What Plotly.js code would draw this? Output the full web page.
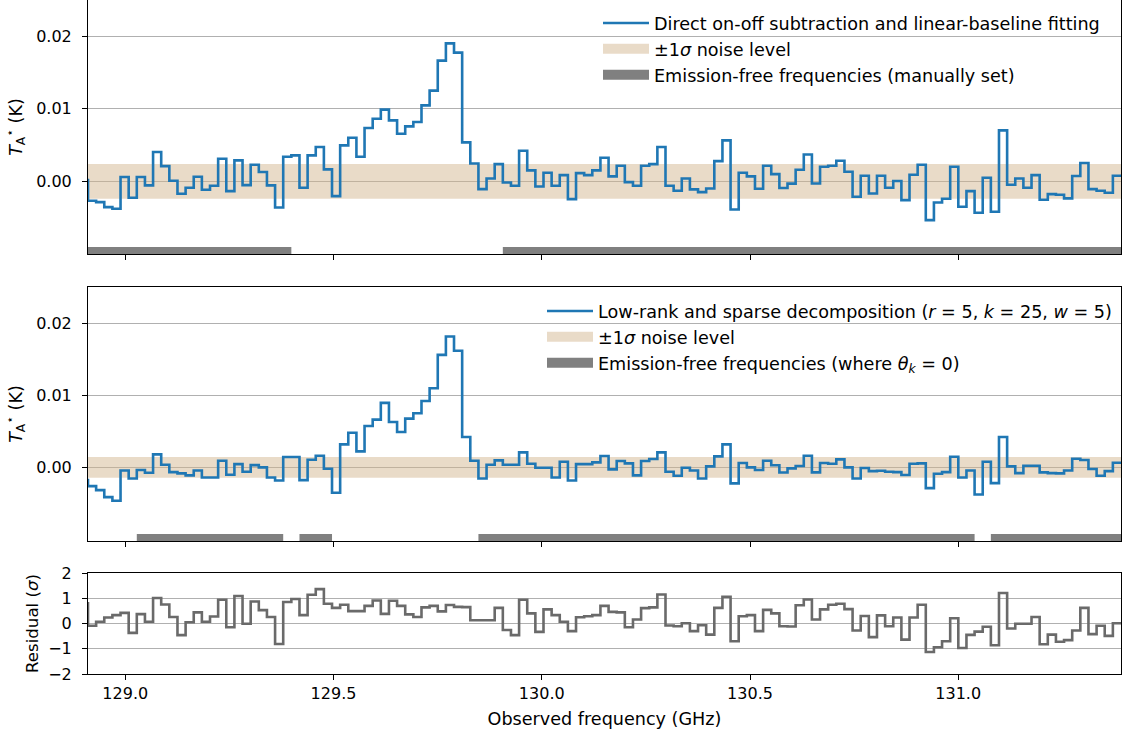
<!DOCTYPE html>
<html>
<head>
<meta charset="utf-8">
<script src="https://cdn.plot.ly/plotly-3.0.1.min.js"></script>
<style>html,body{margin:0;padding:0;background:#fff}</style>
</head>
<body>
<div id="chart" style="width:1123px;height:731px"></div>
<script>
// Spectral channel grid (GHz): left edge of channel 0 and channel width.
const firstEdge = 128.9105;
const channelWidth = 0.01953;

// Antenna temperature after direct on-off subtraction + linear baseline (K), channels -1..126
const tDirect = [
   0.00020, -0.00267, -0.00285, -0.00354, -0.00377,  0.00060, -0.00225,  0.00060, -0.00055,  0.00405,
   0.00211,  0.00009, -0.00170, -0.00087,  0.00064, -0.00115, -0.00060,  0.00313, -0.00133,  0.00290,
  -0.00051,  0.00230,  0.00129, -0.00055, -0.00359,  0.00340,  0.00359, -0.00087,  0.00359,  0.00474,
   0.00166, -0.00202,  0.00497,  0.00602,  0.00340,  0.00736,  0.00864,  0.00989,  0.00841,  0.00657,
   0.00759,  0.00818,  0.01048,  0.01251,  0.01664,  0.01903,  0.01775,  0.00538,  0.00248, -0.00106,
   0.00041,  0.00239, -0.00014, -0.00060,  0.00423,  0.00152, -0.00069,  0.00120, -0.00060,  0.00087,
  -0.00244,  0.00115,  0.00087,  0.00152,  0.00326,  0.00069,  0.00216, -0.00009, -0.00060,  0.00216,
   0.00239,  0.00474, -0.00060, -0.00129,  0.00041, -0.00110, -0.00147, -0.00097,  0.00280,  0.00566,
  -0.00386,  0.00120,  0.00069, -0.00101,  0.00216,  0.00100, -0.00090, -0.00030,  0.00161,  0.00372,
  -0.00028,  0.00202,  0.00216,  0.00285,  0.00133, -0.00211,  0.00078, -0.00166,  0.00078, -0.00087,
   0.00005, -0.00257,  0.00092,  0.00230, -0.00533, -0.00290, -0.00239,  0.00202, -0.00349, -0.00133,
  -0.00432,  0.00051, -0.00418,  0.00703, -0.00046,  0.00041, -0.00087,  0.00087, -0.00253, -0.00175,
  -0.00184, -0.00234,  0.00074,  0.00253, -0.00106, -0.00129, -0.00156,  0.00078
];

// Antenna temperature from the low-rank + sparse decomposition (K), channels -1..126
const tLowRank = [
  -0.00176, -0.00259, -0.00315, -0.00412, -0.00463, -0.00042, -0.00153, -0.00037, -0.00074,  0.00181,
   0.00037, -0.00065, -0.00083, -0.00111, -0.00042, -0.00139, -0.00139,  0.00093, -0.00102,  0.00046,
  -0.00060,  0.00032,  0.00000, -0.00139, -0.00181,  0.00144,  0.00144, -0.00176,  0.00106,  0.00162,
  -0.00019, -0.00352,  0.00319,  0.00481,  0.00222,  0.00574,  0.00662,  0.00894,  0.00630,  0.00491,
   0.00676,  0.00750,  0.00921,  0.01097,  0.01560,  0.01815,  0.01616,  0.00421,  0.00093, -0.00153,
   0.00037,  0.00097,  0.00037,  0.00037,  0.00208,  0.00051, -0.00005, -0.00005, -0.00139,  0.00079,
  -0.00181,  0.00046,  0.00046,  0.00069,  0.00157, -0.00028,  0.00088,  0.00056, -0.00111,  0.00088,
   0.00116,  0.00208, -0.00060, -0.00116, -0.00005, -0.00042, -0.00153,  0.00014,  0.00153,  0.00319,
  -0.00222,  0.00060,  0.00000, -0.00037,  0.00093,  0.00030, -0.00070, -0.00014,  0.00019,  0.00162,
  -0.00069,  0.00060,  0.00051,  0.00111,  0.00000, -0.00153, -0.00009, -0.00051, -0.00046, -0.00060,
  -0.00065, -0.00106,  0.00051,  0.00056, -0.00287, -0.00088, -0.00065,  0.00148, -0.00139, -0.00042,
  -0.00375,  0.00079, -0.00218,  0.00421,  0.00014, -0.00079,  0.00023,  0.00023, -0.00069, -0.00079,
  -0.00083, -0.00042,  0.00120,  0.00102, -0.00023, -0.00116, -0.00051,  0.00065
];

// Residual between the two spectra in units of sigma, channels -1..126
const residual = [
   0.80, -0.09,  0.07,  0.24,  0.33,  0.42, -0.37,  0.37,  0.07,  1.01,
   0.75,  0.26, -0.46,  0.05,  0.44,  0.07,  0.28,  0.94, -0.15,  1.09,
  -0.01,  0.87,  0.53,  0.26, -0.81,  0.85,  0.97,  0.33,  1.14,  1.36,
   0.78,  0.62,  0.74,  0.49,  0.49,  0.70,  0.91,  0.38,  0.90,  0.70,
   0.36,  0.26,  0.64,  0.70,  0.48,  0.73,  0.66,  0.65,  0.13,  0.13,
   0.13,  0.62, -0.26, -0.46,  0.94,  0.40, -0.33,  0.56,  0.33,  0.07,
  -0.30,  0.25,  0.29,  0.33,  0.70,  0.46,  0.44, -0.15,  0.16,  0.61,
   0.64,  1.15, -0.08, -0.11,  0.01, -0.30, -0.07, -0.44,  0.62,  1.06,
  -0.70,  0.29,  0.33, -0.30,  0.54,  0.40, -0.11, -0.12,  0.72,  0.95,
   0.16,  0.56,  0.74,  0.78,  0.57, -0.28,  0.30, -0.54,  0.32, -0.11,
   0.24, -0.64,  0.24,  0.74, -1.13, -0.94, -0.70,  0.21, -0.97, -0.45,
  -0.32, -0.13, -0.86,  1.21, -0.20, -0.01, -0.01,  0.26, -0.82, -0.44,
  -0.72, -0.66, -0.28,  0.62, -0.42, -0.09, -0.49,  0.01
];

// 1-sigma noise levels (K)
const sigmaDirect = 0.0024;
const sigmaLowRank = 0.00143;

// Emission-free channel ranges [first, last] (inclusive)
const freeManual = [[0, 24], [51, 126]];
const freeLowRank = [[6, 23], [26, 29], [48, 108], [111, 126]];

const nChannels = 127;
const xTicks = [129.0, 129.5, 130.0, 130.5, 131.0];
const yTicksT = [0.00, 0.01, 0.02];
const yTicksR = [-2, -1, 0, 1, 2];

const legendDirect = 'Direct on-off subtraction and linear-baseline fitting';
const legendLowRank = 'Low-rank and sparse decomposition (<i>r</i> = 5, <i>k</i> = 25, <i>w</i> = 5)';
const legendNoise = '±1<i>σ</i> noise level';
const legendFreeManual = 'Emission-free frequencies (manually set)';
const legendFreeLowRank = 'Emission-free frequencies (where <i>θ</i><sub><i>k</i></sub> = 0)';

// ---- derived geometry ----
const edge = k => firstEdge + k * channelWidth;
const xMin = edge(0), xMax = edge(nChannels);
// left edges of channels -1..127 for a step ('hv') line; the last value closes the final channel
const stepX = Array.from({length: tDirect.length + 1}, (_, i) => edge(i - 1));
const stepY = arr => arr.concat([arr[arr.length - 1]]);

const bandColor = 'rgba(210,180,140,0.48)';
const freeColor = '#808080';

function bandTrace(sigma, xa, ya) {
  return {
    x: [xMin, xMax, xMax, xMin], y: [-sigma, -sigma, sigma, sigma],
    xaxis: xa, yaxis: ya, type: 'scatter', mode: 'lines', fill: 'toself',
    fillcolor: bandColor, line: {width: 0}, showlegend: false, hoverinfo: 'skip'
  };
}
function freeTrace(ranges, xa, ya) {
  const xs = [], ys = [];
  const h = 0.028;
  ranges.forEach(([a, b]) => {
    const x0 = edge(a), x1 = edge(b + 1);
    xs.push(x0, x1, x1, x0, x0, null);
    ys.push(0, 0, h, h, 0, null);
  });
  return {x: xs, y: ys, xaxis: xa, yaxis: ya, type: 'scatter', mode: 'lines', fill: 'toself',
    fillcolor: freeColor, line: {width: 0}, showlegend: false, hoverinfo: 'skip'};
}
// legend keys drawn as thick bars
function keyTrace(name, color, legend, rank) {
  return {x: [null], y: [null], type: 'scatter', mode: 'lines', name: name,
    line: {color: color, width: 12}, legend: legend, legendrank: rank, legendgroup: legend + rank,
    xaxis: legend === 'legend' ? 'x' : 'x2', yaxis: legend === 'legend' ? 'y' : 'y2'};
}

const blue = '#1f77b4';
const data = [
  bandTrace(sigmaDirect, 'x', 'y'),
  {x: stepX, y: stepY(tDirect), xaxis: 'x', yaxis: 'y', type: 'scatter', mode: 'lines',
   line: {color: blue, width: 2.6, shape: 'hv'}, name: legendDirect, legend: 'legend',
   legendrank: 1, legendgroup: 'legend1'},
  keyTrace(legendNoise, bandColor, 'legend', 2),
  keyTrace(legendFreeManual, freeColor, 'legend', 3),
  freeTrace(freeManual, 'x', 'y4'),

  bandTrace(sigmaLowRank, 'x2', 'y2'),
  {x: stepX, y: stepY(tLowRank), xaxis: 'x2', yaxis: 'y2', type: 'scatter', mode: 'lines',
   line: {color: blue, width: 2.6, shape: 'hv'}, name: legendLowRank, legend: 'legend2',
   legendrank: 1, legendgroup: 'legend21'},
  keyTrace(legendNoise, bandColor, 'legend2', 2),
  keyTrace(legendFreeLowRank, freeColor, 'legend2', 3),
  freeTrace(freeLowRank, 'x2', 'y5'),

  {x: stepX, y: stepY(residual), xaxis: 'x3', yaxis: 'y3', type: 'scatter', mode: 'lines',
   line: {color: '#6a6a6a', width: 2.6, shape: 'hv'}, showlegend: false}
];

const fontFamily = "'DejaVu Sans', sans-serif";
const H = 674; // plotting height in px (731 - bottom margin)
const dom = (top, bottom) => [1 - bottom / H, 1 - top / H];
const tickTxt = {family: fontFamily, size: 16, color: '#000'};
const labelTxt = {family: fontFamily, size: 17.6, color: '#000'};

const xBase = {
  range: [xMin, xMax], showline: true, mirror: true, linecolor: '#000', linewidth: 1,
  ticks: 'outside', ticklen: 5, tickwidth: 1, tickcolor: '#000', tickvals: xTicks,
  showgrid: false, zeroline: false, tickfont: tickTxt
};
const yBase = {
  showline: true, mirror: true, linecolor: '#000', linewidth: 1,
  ticks: 'outside', ticklen: 5, tickwidth: 1, tickcolor: '#000', ticklabelstandoff: 7,
  showgrid: true, gridcolor: '#b0b0b0', gridwidth: 1, zeroline: false,
  tickfont: tickTxt
};
const tTitle = {text: '<i>T</i><sub>A</sub><sup>⋆</sup> (K)', font: labelTxt, standoff: 9};

const legendBase = {xanchor: 'left', yanchor: 'top', bgcolor: 'rgba(0,0,0,0)', borderwidth: 0,
  font: labelTxt, itemwidth: 46, traceorder: 'normal'};

const layout = {
  width: 1123, height: 731,
  margin: {l: 88, r: 2, t: 0, b: 57},
  paper_bgcolor: '#fff', plot_bgcolor: '#fff',
  font: labelTxt,
  showlegend: true,
  xaxis: Object.assign({}, xBase, {anchor: 'y', showticklabels: false}),
  xaxis2: Object.assign({}, xBase, {anchor: 'y2', matches: 'x', showticklabels: false}),
  xaxis3: Object.assign({}, xBase, {anchor: 'y3', matches: 'x', tickformat: '.1f',
    title: {text: 'Observed frequency (GHz)', font: labelTxt, standoff: 10}}),
  yaxis: Object.assign({}, yBase, {domain: dom(0, 254), range: [-0.01, 0.025], anchor: 'x',
    tickvals: yTicksT, tickformat: '.2f', title: tTitle}),
  yaxis2: Object.assign({}, yBase, {domain: dom(287, 541), range: [-0.0102, 0.025], anchor: 'x2',
    tickvals: yTicksT, tickformat: '.2f', title: tTitle}),
  yaxis3: Object.assign({}, yBase, {domain: dom(573, 674), range: [-2, 2], anchor: 'x3',
    tickvals: yTicksR, title: {text: 'Residual (<i>σ</i>)', font: Object.assign({}, labelTxt, {size: 16.6}), standoff: 5}}),
  yaxis4: {overlaying: 'y', range: [0, 1], visible: false, anchor: 'x'},
  yaxis5: {overlaying: 'y2', range: [0, 1], visible: false, anchor: 'x2'},
  legend: Object.assign({}, legendBase, {x: (598 - 88) / 1033, y: 1 - 5 / H}),
  legend2: Object.assign({}, legendBase, {x: (542 - 88) / 1033, y: 1 - 293 / H})
};

Plotly.newPlot('chart', data, layout, {displayModeBar: false, staticPlot: true});
</script>
</body>
</html>
